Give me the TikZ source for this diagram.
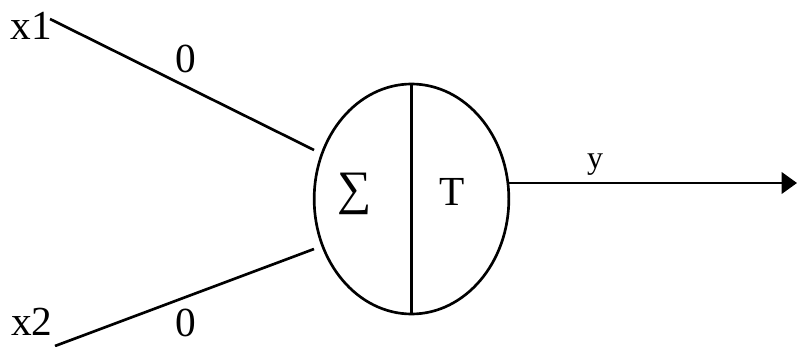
\documentclass[tikz,border=0pt]{standalone}
\usepackage{fontspec}
\setmainfont{Liberation Serif}
\usetikzlibrary{arrows.meta, shapes.geometric}

\begin{document}
\begin{tikzpicture}[x=0.75pt, y=-0.75pt,
        wire/.style={line width=2pt},
        lbl/.style={inner sep=0pt, anchor=base, font=\fontsize{31}{36}\selectfont}]
    \useasboundingbox (0,0) rectangle (798,346);
    % neuron body
    \node[draw, ellipse, line width=2pt, minimum width=146pt, minimum height=172.5pt,
          inner sep=0pt, outer sep=0pt] (neuron) at (411.5,199) {};
    \draw[wire] (neuron.north) -- (neuron.south);
    \node[inner sep=0pt, font=\fontsize{36}{40}\selectfont] (sum) at (355,194) {∑};
    \node[lbl] (thresh) at (452,205) {T};

    % inputs
    \node[lbl] (x1) at (31,40) {x1};
    \node[lbl] (x2) at (32,335) {x2};
    \coordinate (in1) at (50,19);
    \coordinate (in2) at (55,346);
    \coordinate (end1) at (314,150);
    \coordinate (end2) at (314,249);
    \draw[wire] (in1) -- (end1);
    \draw[wire] (in2) -- (end2);
    \node[lbl] (w1) at (186,73) {0};
    \node[lbl] (w2) at (186,336) {0};

    % output
    \coordinate (out) at (797,183);
    \draw[wire, -{Triangle[length=11.5pt, width=16pt]}] (neuron.east |- out) -- (out);
    \node[lbl, font=\fontsize{24}{28}\selectfont] (y) at (595,168) {y};
\end{tikzpicture}
\end{document}
